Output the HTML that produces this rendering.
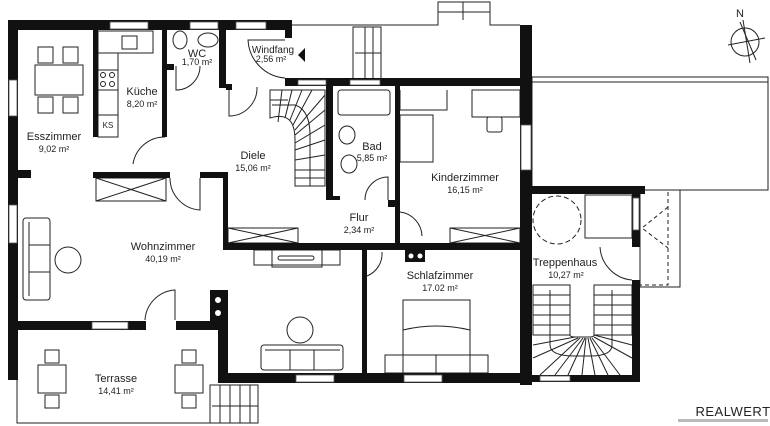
<!DOCTYPE html>
<html><head><style>
html,body{margin:0;padding:0;background:#fff;}
svg{display:block;}
text{font-family:"Liberation Sans",sans-serif;fill:#222;text-anchor:middle;}
.t{font-size:11px;}
.s{font-size:9px;}
</style></head><body>
<svg width="770" height="426" viewBox="0 0 770 426" xmlns="http://www.w3.org/2000/svg">
<g fill="none" stroke="#222" stroke-width="1">
<!-- outer thin lines -->
<polyline points="292,25 438,25 438,2 490,2 490,25 520,25"/>
<line x1="438" y1="12" x2="490" y2="12"/>
<line x1="463" y1="2" x2="463" y2="20"/>
<rect x="532" y="77" width="236" height="113"/>
<line x1="532" y1="82" x2="768" y2="82"/>
<rect x="640" y="190" width="40" height="97"/>
<polyline points="668,192 668,285 640,285" stroke-dasharray="4,3"/>
<polyline points="668,207 642,228 668,248" stroke-dasharray="4,3"/>
<!-- entrance stairs -->
<rect x="353" y="27" width="28" height="52"/>
<line x1="365" y1="27" x2="365" y2="79"/><line x1="373" y1="27" x2="373" y2="79"/>
<line x1="355" y1="53" x2="381" y2="53"/>
<!-- terrace -->
<polyline points="17,330 17,423 210,423"/>
<rect x="210" y="385" width="48" height="38"/>
<line x1="220" y1="385" x2="220" y2="423"/><line x1="230" y1="385" x2="230" y2="423"/><line x1="240" y1="385" x2="240" y2="423"/><line x1="250" y1="385" x2="250" y2="423"/>
<line x1="212" y1="406" x2="258" y2="406"/>
<!-- dining -->
<rect x="35" y="65" width="48" height="30"/>
<rect x="38" y="47" width="15" height="16"/><rect x="63" y="47" width="15" height="16"/>
<rect x="38" y="97" width="15" height="16"/><rect x="63" y="97" width="15" height="16"/>
<!-- kitchen -->
<rect x="98" y="31" width="55" height="22"/>
<rect x="122" y="36" width="15" height="13"/>
<rect x="98" y="53" width="20" height="84"/>
<rect x="98" y="70" width="20" height="20"/>
<circle cx="103" cy="75" r="2.5"/><circle cx="112" cy="75" r="2.5"/><circle cx="103" cy="84" r="2.5"/><circle cx="112" cy="84" r="2.5"/>
<line x1="98" y1="115" x2="118" y2="115"/>
<!-- WC -->
<ellipse cx="180" cy="40" rx="7" ry="9"/><ellipse cx="208" cy="40" rx="10" ry="7"/>
<path d="M200,66 A24,24 0 0 1 176,90 L176,66"/>
<!-- Windfang door -->
<path d="M285,78 A40,40 0 0 1 248,40 L285,40"/>
<path d="M229,87 L229,116 A28,28 0 0 0 257,87"/>
<!-- stairs main -->
<path d="M270,90 L325,90 L325,186 L295,186 L295,140 Q295,110 270,118 Z"/>
<line x1="270" y1="100" x2="288" y2="100"/>
<line x1="282" y1="90" x2="278" y2="122"/><line x1="292" y1="90" x2="285" y2="118"/><line x1="302" y1="90" x2="290" y2="120"/><line x1="312" y1="90" x2="293" y2="125"/><line x1="325" y1="95" x2="295" y2="130"/>
<line x1="295" y1="135" x2="325" y2="110"/><line x1="295" y1="143" x2="325" y2="125"/>
<line x1="295" y1="150" x2="325" y2="140"/><line x1="295" y1="160" x2="325" y2="155"/><line x1="295" y1="170" x2="325" y2="170"/><line x1="295" y1="178" x2="325" y2="178"/>
<path d="M310,186 L310,135 Q310,110 295,105 L272,105"/>
<!-- door dining -->
<path d="M133,164 A32,32 0 0 1 165,137"/>
<path d="M170,178 A32,32 0 0 0 200,210 L200,178"/>
<!-- wardrobe Diele -->
<rect x="96" y="178" width="70" height="23"/><path d="M96,178 L166,201 M96,201 L166,178"/>
<rect x="228" y="228" width="70" height="15"/><path d="M228,228 L298,243 M228,243 L298,228"/>
<!-- bad -->
<rect x="338" y="90" width="52" height="25" rx="3"/>
<ellipse cx="347" cy="135" rx="8" ry="9"/><ellipse cx="349" cy="164" rx="8" ry="9"/>
<path d="M365,200 A23,23 0 0 1 388,177 L388,200"/>
<path d="M400,212 A25,25 0 0 1 422,236"/>
<path d="M367,276 A24,24 0 0 0 382,252"/>
<!-- kinderzimmer -->
<polyline points="400,90 400,110 447,110 447,90"/>
<rect x="400" y="115" width="33" height="47"/>
<rect x="472" y="90" width="48" height="27"/><rect x="487" y="117" width="15" height="15" rx="2"/>
<rect x="450" y="228" width="70" height="15"/><path d="M450,228 L520,243 M450,243 L520,228"/>
<!-- TV -->
<rect x="254" y="250" width="86" height="15"/><rect x="272" y="250" width="50" height="17"/>
<rect x="278" y="256" width="36" height="4" rx="2"/>
<!-- sofa left -->
<rect x="23" y="218" width="27" height="82" rx="3"/><line x1="29" y1="222" x2="29" y2="296"/><line x1="29" y1="245" x2="50" y2="245"/><line x1="29" y1="272" x2="50" y2="272"/>
<circle cx="68" cy="260" r="13"/>
<!-- sofa bottom -->
<rect x="261" y="345" width="82" height="25" rx="3"/><line x1="265" y1="350" x2="340" y2="350"/><line x1="290" y1="350" x2="290" y2="370"/><line x1="314" y1="350" x2="314" y2="370"/>
<circle cx="300" cy="330" r="13"/>
<!-- door Wohnzimmer terrace -->
<path d="M145,320 A32,32 0 0 1 175,290 L175,320"/>
<!-- terrace tables -->
<rect x="38" y="365" width="28" height="28"/><rect x="45" y="350" width="14" height="13"/><rect x="45" y="395" width="14" height="13"/>
<rect x="175" y="365" width="28" height="28"/><rect x="182" y="350" width="14" height="13"/><rect x="182" y="395" width="14" height="13"/>
<!-- bed -->
<rect x="403" y="300" width="67" height="73"/><line x1="403" y1="355" x2="470" y2="355"/><line x1="436" y1="355" x2="436" y2="373"/>
<rect x="385" y="355" width="18" height="18"/><rect x="470" y="355" width="18" height="18"/>
<path d="M403,330 Q436,322 470,330"/>
<!-- treppenhaus -->
<circle cx="557" cy="220" r="24" stroke-dasharray="5,3"/>
<rect x="585" y="195" width="47" height="43"/>
<path d="M600,247 A35,35 0 0 0 632,280"/>
<rect x="533" y="285" width="37" height="50"/><rect x="594" y="285" width="38" height="50"/>
<line x1="533" y1="295" x2="570" y2="295"/><line x1="533" y1="305" x2="570" y2="305"/><line x1="533" y1="315" x2="570" y2="315"/><line x1="533" y1="325" x2="570" y2="325"/>
<line x1="594" y1="295" x2="632" y2="295"/><line x1="594" y1="305" x2="632" y2="305"/><line x1="594" y1="315" x2="632" y2="315"/><line x1="594" y1="325" x2="632" y2="325"/>
<path d="M570,335 Q570,337 575,337 L590,337 Q594,337 594,335"/>
<line x1="533" y1="345" x2="575" y2="337"/><line x1="533" y1="358" x2="578" y2="338"/><line x1="540" y1="375" x2="580" y2="338"/><line x1="555" y1="375" x2="583" y2="338"/><line x1="568" y1="375" x2="585" y2="338"/><line x1="582" y1="375" x2="586" y2="338"/><line x1="595" y1="375" x2="588" y2="338"/><line x1="608" y1="375" x2="590" y2="338"/><line x1="620" y1="375" x2="592" y2="338"/><line x1="632" y1="358" x2="594" y2="337"/><line x1="632" y1="345" x2="594" y2="335"/>
<path d="M550,290 L550,345 Q550,356 575,356 L590,356 Q612,356 612,345 L612,290"/>
<!-- compass -->
<circle cx="745" cy="42" r="14"/><line x1="728" y1="45" x2="765" y2="38"/><line x1="743" y1="20" x2="750" y2="63"/><line x1="740" y1="22" x2="756" y2="60"/>
</g>
<g fill="#111">
<rect x="8" y="20" width="284" height="10"/>
<rect x="8" y="20" width="10" height="360"/>
<rect x="285" y="20" width="7" height="18"/>
<rect x="285" y="78" width="247" height="8"/>
<rect x="520" y="25" width="12" height="360"/>
<rect x="93" y="30" width="5" height="107"/>
<rect x="162" y="30" width="5" height="107"/>
<rect x="167" y="64" width="7" height="6"/>
<rect x="219" y="30" width="7" height="58"/>
<rect x="226" y="84" width="6" height="6"/>
<rect x="93" y="172" width="77" height="6"/>
<rect x="18" y="170" width="13" height="8"/>
<rect x="200" y="172" width="28" height="6"/>
<rect x="223" y="172" width="5" height="78"/>
<rect x="223" y="243" width="144" height="7"/>
<rect x="326" y="80" width="7" height="120"/>
<rect x="326" y="196" width="14" height="4"/>
<rect x="395" y="80" width="5" height="170"/>
<rect x="388" y="200" width="7" height="7"/>
<rect x="362" y="243" width="5" height="140"/>
<rect x="367" y="243" width="160" height="7"/>
<rect x="405" y="250" width="20" height="12"/>
<rect x="223" y="373" width="309" height="10"/>
<rect x="18" y="321" width="128" height="9"/>
<rect x="176" y="321" width="52" height="9"/>
<rect x="210" y="290" width="18" height="40"/>
<rect x="218" y="290" width="10" height="93"/>
<rect x="532" y="186" width="113" height="8"/>
<rect x="632" y="194" width="8" height="53"/>
<rect x="632" y="280" width="8" height="102"/>
<rect x="532" y="375" width="108" height="7"/>
</g>
<g fill="#fff" stroke="#555" stroke-width="0.8">
<rect x="110" y="22" width="38" height="7"/><rect x="190" y="22" width="28" height="7"/><rect x="236" y="22" width="30" height="7"/>
<rect x="9" y="80" width="8" height="36"/><rect x="9" y="205" width="8" height="38"/>
<rect x="298" y="80" width="28" height="5"/><rect x="350" y="80" width="30" height="5"/>
<rect x="521" y="125" width="10" height="45"/>
<rect x="92" y="322" width="36" height="7"/>
<rect x="296" y="375" width="38" height="7"/><rect x="404" y="375" width="38" height="7"/><rect x="540" y="376" width="30" height="5"/>
<rect x="633" y="198" width="6" height="32"/>
</g>
<g fill="#fff"><circle cx="218" cy="300" r="3"/><circle cx="218" cy="313" r="3"/><circle cx="411" cy="256" r="2.5"/><circle cx="420" cy="256" r="2.5"/></g>
<path d="M305,48 L298,55 L305,62 Z" fill="#111"/>
<text x="54" y="140" class="t">Esszimmer</text><text x="54" y="152" class="s">9,02 m²</text>
<text x="142" y="95" class="t">Küche</text><text x="142" y="107" class="s">8,20 m²</text>
<text x="108" y="128" class="s" style="font-size:8px">KS</text>
<text x="197" y="57" class="t">WC</text><text x="197" y="65" class="s">1,70 m²</text>
<text x="273" y="53" class="t" style="font-size:10px">Windfang</text><text x="271" y="62" class="s">2,56 m²</text>
<text x="253" y="159" class="t">Diele</text><text x="253" y="171" class="s">15,06 m²</text>
<text x="372" y="150" class="t">Bad</text><text x="372" y="161" class="s">5,85 m²</text>
<text x="465" y="181" class="t">Kinderzimmer</text><text x="465" y="193" class="s">16,15 m²</text>
<text x="359" y="221" class="t">Flur</text><text x="359" y="233" class="s">2,34 m²</text>
<text x="163" y="250" class="t">Wohnzimmer</text><text x="163" y="262" class="s">40,19 m²</text>
<text x="440" y="279" class="t">Schlafzimmer</text><text x="440" y="291" class="s">17.02 m²</text>
<text x="565" y="266" class="t">Treppenhaus</text><text x="566" y="278" class="s">10,27 m²</text>
<text x="116" y="382" class="t">Terrasse</text><text x="116" y="394" class="s">14,41 m²</text>
<text x="740" y="17" class="t">N</text>
<text x="733" y="416" class="t" style="font-size:13px;letter-spacing:0.5px">REALWERT</text>
<rect x="678" y="419" width="90" height="3" fill="#bbb"/>
</svg>
</body></html>
